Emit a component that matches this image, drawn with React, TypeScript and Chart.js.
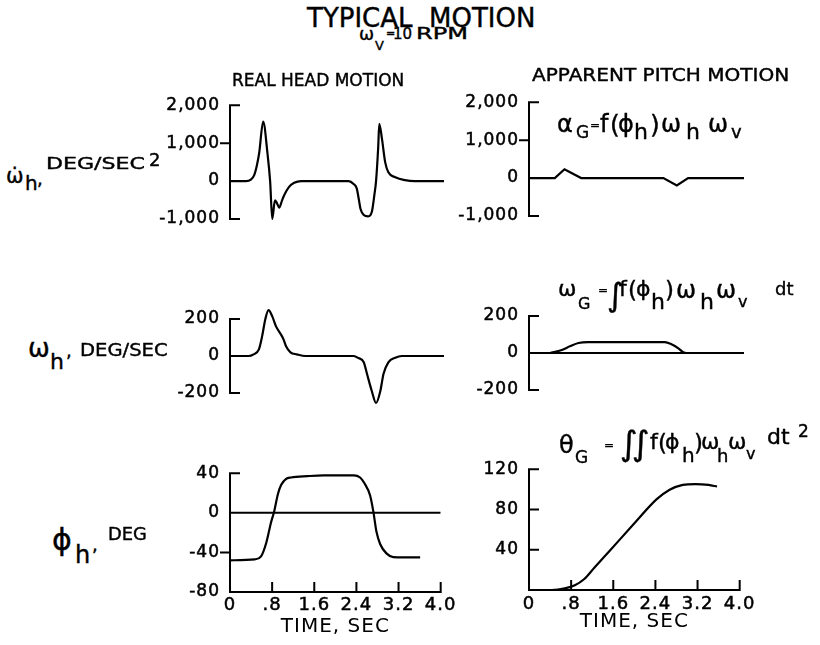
import React, { useEffect, useRef } from 'react';
import { Chart, registerables } from 'chart.js';

Chart.register(...registerables);

// ---------------- data ----------------
const timeTicks = [0, 0.8, 1.6, 2.4, 3.2, 4.0];
const timeTickLabels = ['0', '.8', '1.6', '2.4', '3.2', '4.0'];

const accelTicks = [-1000, 0, 1000, 2000];
const rateTicks = [-200, 0, 200];
const headAngleTicks = [-80, -40, 0, 40];
const pitchAngleTicks = [0, 40, 80, 120];

const baselineTime = [0, 4.0];
const baselineValue = [0, 0];

// real head angular acceleration, deg/sec^2
const headAccelTime = [0, 0.30, 0.39, 0.45, 0.50, 0.545, 0.62, 0.70, 0.75, 0.79, 0.84, 0.87, 0.92, 0.97, 1.01, 1.10, 1.20, 1.33, 2.22, 2.31, 2.37, 2.41, 2.44, 2.50, 2.58, 2.65, 2.70, 2.73, 2.77, 2.79, 2.84, 2.90, 2.96, 3.09, 3.27, 3.45, 4.0];
const headAccelValue = [0, 0, 40, 150, 400, 735, 1570, 735, 0, -1000, -510, -560, -700, -520, -380, -160, -45, 0, 0, -78, -200, -500, -737, -893, -930, -814, -350, 0, 890, 1510, 1120, 500, 230, 100, 25, 0, 0];

// apparent pitch acceleration
const pitchAccelTime = [0, 0.48, 0.66, 0.97, 2.50, 2.75, 2.96, 4.0];
const pitchAccelValue = [0, 0, 233, 0, 0, -194, 0, 0];

// real head angular rate, deg/sec
const headRateTime = [0, 0.35, 0.44, 0.54, 0.60, 0.66, 0.72, 0.79, 0.86, 0.96, 1.00, 1.05, 1.13, 1.25, 1.41, 2.31, 2.40, 2.50, 2.56, 2.65, 2.73, 2.81, 2.87, 2.96, 3.09, 3.21, 4.0];
const headRateValue = [0, 0, 9, 36, 106, 199, 248, 214, 160, 113, 90, 51, 20, 9, 0, 0, -11, -34, -96, -189, -254, -189, -96, -34, -9, 0, 0];

// apparent pitch rate
const pitchRateTime = [0.39, 0.61, 0.76, 0.92, 1.10, 2.53, 2.65, 2.78, 2.87, 2.92];
const pitchRateValue = [0, 16, 36, 54, 59, 59, 47, 25, 4, 0];

// real head roll angle, deg
const headAngleTime = [0, 0.47, 0.59, 0.69, 0.78, 0.84, 0.91, 0.97, 1.06, 1.16, 1.47, 1.78, 2.35, 2.47, 2.55, 2.66, 2.72, 2.78, 2.85, 2.97, 3.10, 3.29, 3.61];
const headAngleValue = [-48, -47, -44, -30, -9.5, 1.6, 19, 28, 34, 35.6, 37, 37.8, 37.8, 35.6, 30, 17.4, 1.6, -19, -31.5, -41, -44.7, -45, -45];

// apparent pitch angle
const pitchAngleTime = [0, 0.43, 0.68, 0.87, 1.05, 1.24, 1.55, 1.98, 2.42, 2.67, 2.92, 3.16, 3.41, 3.57];
const pitchAngleValue = [0, 0, 1.6, 4.7, 10.9, 22, 40, 65, 90, 99.7, 104.4, 105.3, 104.4, 102.8];

// ---------------- layout / style ----------------
const FONT = '"DejaVu Sans", "Liberation Sans", sans-serif';
const LW = 110;
const PR = 14;
const PT = 12;
const PB = 12;

type Series = { t: number[]; v: number[]; smooth: boolean };
type PanelCfg = {
  key: string;
  series: Series[];
  yTicks: number[];
  hideZeroLabel?: boolean;
  yMin: number;
  yMax: number;
  axisX: number;
  plotW: number;
  chartTop: number;
  chartBottom: number;
  xAxisH?: number;
  xPad?: number;
  midSide: 'left' | 'right';
};

const panels: PanelCfg[] = [
  {
    key: 'tl',
    series: [{ t: headAccelTime, v: headAccelValue, smooth: true }],
    yTicks: accelTicks, yMin: -1100, yMax: 2000,
    axisX: 230, plotW: 214, chartTop: 97, chartBottom: 231, midSide: 'left',
  },
  {
    key: 'tr',
    series: [{ t: pitchAccelTime, v: pitchAccelValue, smooth: false }],
    yTicks: accelTicks, yMin: -1100, yMax: 2000,
    axisX: 529, plotW: 215, chartTop: 94, chartBottom: 228, midSide: 'left',
  },
  {
    key: 'ml',
    series: [{ t: headRateTime, v: headRateValue, smooth: true }],
    yTicks: rateTicks, yMin: -280, yMax: 280,
    axisX: 230, plotW: 214, chartTop: 296, chartBottom: 416, midSide: 'left',
  },
  {
    key: 'mr',
    series: [
      { t: baselineTime, v: baselineValue, smooth: false },
      { t: pitchRateTime, v: pitchRateValue, smooth: true },
    ],
    yTicks: rateTicks, yMin: -280, yMax: 280,
    axisX: 529, plotW: 215, chartTop: 293, chartBottom: 413, midSide: 'left',
  },
  {
    key: 'bl',
    series: [
      { t: baselineTime, v: baselineValue, smooth: false },
      { t: headAngleTime, v: headAngleValue, smooth: true },
    ],
    yTicks: headAngleTicks, yMin: -80, yMax: 45,
    axisX: 230, plotW: 214, chartTop: 460, chartBottom: 592, xAxisH: 47, xPad: 3, midSide: 'left',
  },
  {
    key: 'br',
    series: [{ t: pitchAngleTime, v: pitchAngleValue, smooth: true }],
    yTicks: pitchAngleTicks, hideZeroLabel: true, yMin: 0, yMax: 125,
    axisX: 529, plotW: 215, chartTop: 456, chartBottom: 590, xAxisH: 44, xPad: 4, midSide: 'right',
  },
];

function makeDeco(cfg: PanelCfg) {
  return {
    id: 'deco_' + cfg.key,
    beforeDraw(chart: any) {
      try {
        chart.ctx.letterSpacing = '1px';
      } catch (e) {
        /* ignore */
      }
    },
    afterDraw(chart: any) {
      const { ctx, chartArea, scales } = chart;
      try {
        ctx.letterSpacing = '0px';
      } catch (e) {
        /* ignore */
      }
      const ys = scales.y;
      const xs = scales.x;
      const ax = chartArea.left;
      const tk = 9;
      const hi = Math.max(...cfg.yTicks);
      const lo = Math.min(...cfg.yTicks);
      ctx.save();
      ctx.strokeStyle = '#000';
      ctx.lineWidth = 2;
      ctx.lineCap = 'square';
      ctx.beginPath();
      ctx.moveTo(ax, ys.getPixelForValue(hi));
      ctx.lineTo(ax, ys.getPixelForValue(lo));
      for (const v of cfg.yTicks) {
        if (v === 0) continue;
        const y = ys.getPixelForValue(v);
        let side = 1;
        if (v === hi) side = 1;
        else if (v === lo) {
          if (cfg.xAxisH) continue;
          side = 1;
        } else side = cfg.midSide === 'right' ? 1 : -1;
        ctx.moveTo(ax, y);
        ctx.lineTo(ax + side * tk, y);
      }
      if (cfg.xAxisH) {
        const yb = chartArea.bottom;
        ctx.moveTo(xs.getPixelForValue(0), yb);
        ctx.lineTo(xs.getPixelForValue(4), yb);
        for (const t of timeTicks) {
          if (t === 0) continue;
          const x = xs.getPixelForValue(t);
          ctx.moveTo(x, yb);
          ctx.lineTo(x, yb - tk);
        }
      }
      ctx.stroke();
      ctx.restore();
    },
  };
}

function Panel({ cfg }: { cfg: PanelCfg }) {
  const ref = useRef<HTMLCanvasElement>(null);
  const plotH = cfg.chartBottom - cfg.chartTop;
  const bottomExtra = cfg.xAxisH ?? PB;
  const w = LW + cfg.plotW + PR;
  const h = PT + plotH + bottomExtra;

  useEffect(() => {
    if (!ref.current) return;
    const hasX = !!cfg.xAxisH;
    const chart = new Chart(ref.current, {
      type: 'line',
      data: {
        datasets: cfg.series.map((s) => ({
          data: s.t.map((t, i) => ({ x: t, y: s.v[i] })),
          borderColor: '#000',
          borderWidth: 2.2,
          pointRadius: 0,
          fill: false,
          tension: 0,
          cubicInterpolationMode: s.smooth ? 'monotone' : 'default',
        })),
      },
      options: {
        responsive: false,
        animation: false,
        events: [],
        layout: { padding: { left: 0, right: PR, top: PT, bottom: hasX ? 0 : PB } },
        plugins: { legend: { display: false }, tooltip: { enabled: false } },
        scales: {
          x: {
            type: 'linear',
            min: 0,
            max: 4,
            display: hasX,
            afterBuildTicks: (s: any) => {
              s.ticks = timeTicks.map((v) => ({ value: v }));
            },
            afterFit: (s: any) => {
              if (hasX) s.height = cfg.xAxisH;
            },
            grid: { display: false, drawTicks: false },
            border: { display: false },
            ticks: {
              color: '#000',
              font: { family: FONT, size: 18 },
              padding: cfg.xPad ?? 3,
              maxRotation: 0,
              autoSkip: false,
              textStrokeColor: '#000',
              textStrokeWidth: 0.5,
              callback: (v: any) => {
                const i = timeTicks.findIndex((t) => Math.abs(t - Number(v)) < 1e-6);
                return i >= 0 ? timeTickLabels[i] : '';
              },
            },
            title: {
              display: true,
              text: 'TIME, SEC',
              color: '#000',
              font: { family: FONT, size: 20 },
              padding: 0,
            },
          },
          y: {
            type: 'linear',
            min: cfg.yMin,
            max: cfg.yMax,
            afterBuildTicks: (s: any) => {
              s.ticks = cfg.yTicks.map((v) => ({ value: v }));
            },
            afterFit: (s: any) => {
              s.width = LW;
            },
            grid: { display: false, drawTicks: false },
            border: { display: false },
            ticks: {
              color: '#000',
              font: { family: FONT, size: 17 },
              padding: 10,
              autoSkip: false,
              textStrokeColor: '#000',
              textStrokeWidth: 0.5,
              callback: (v: any) => {
                const n = Number(v);
                if (cfg.hideZeroLabel && n === 0) return '';
                return n.toLocaleString('en-US');
              },
            },
          },
        },
      } as any,
      plugins: [makeDeco(cfg)],
    });
    return () => chart.destroy();
  }, []);

  return (
    <canvas
      ref={ref}
      width={w}
      height={h}
      style={{ position: 'absolute', left: cfg.axisX - LW, top: cfg.chartTop - PT, width: w, height: h }}
    />
  );
}

// [text, left, baseline, font size, letter spacing, horizontal stretch]
type Piece = [string, number, number, number, number?, number?];

function Pieces({ items }: { items: Piece[] }) {
  return (
    <>
      {items.map(([s, x, b, z, ls, sx], i) => (
        <span
          key={i}
          style={{
            position: 'absolute',
            left: x,
            top: b - 0.846 * z,
            fontSize: z,
            lineHeight: 1,
            whiteSpace: 'pre',
            letterSpacing: ls || 0,
            fontFamily: FONT,
            color: '#000',
            WebkitTextStroke: '0.4px #000',
            transform: sx ? `scaleX(${sx})` : undefined,
            transformOrigin: 'left center',
          }}
        >
          {s}
        </span>
      ))}
    </>
  );
}

const headingPieces: Piece[] = [
  ['TYPICAL  MOTION', 307, 27, 26],
  ['ω', 359, 40, 18],
  ['V', 375, 50, 13],
  ['=', 386, 37, 11],
  ['10', 393, 40, 15],
  ['RPM', 416, 40, 16, 0, 1.5],
  ['REAL HEAD MOTION', 232, 86, 17],
  ['APPARENT PITCH MOTION', 532, 81, 17, 0, 1.18],
];

const axisTitlePieces: Piece[] = [
  ['ω̇', 6, 184, 21],
  ['h', 25, 190, 20],
  [',', 37, 185, 18],
  ['DEG/SEC', 46, 170, 16, 0, 1.38],
  ['2', 149, 166, 18],
  ['ω', 28, 357, 26],
  ['h', 50, 370, 22],
  [',', 66, 357, 18],
  ['DEG/SEC', 80, 356, 17, 0, 1.15],
  ['ϕ', 52, 550, 30],
  ['h', 75, 563, 24],
  [',', 92, 551, 18],
  ['DEG', 108, 540, 17, 0, 1.05],
];

const formulaPieces: Piece[] = [
  ['α', 557, 132, 24],
  ['G', 576, 138, 17],
  ['=', 590, 129, 12],
  ['f', 600, 132, 24],
  ['(', 610, 133, 25],
  ['ϕ', 618, 132, 24],
  ['h', 634, 140, 22],
  [')', 650, 133, 25],
  ['ω', 661, 132, 24],
  ['h', 686, 140, 22],
  ['ω', 708, 132, 24],
  ['v', 731, 138, 18],

  ['ω', 558, 297, 22],
  ['G', 578, 310, 16],
  ['=', 598, 294, 12],
  ['∫', 607, 306, 32],
  ['f', 619, 297, 22],
  ['(', 628, 298, 23],
  ['ϕ', 636, 297, 22],
  ['h', 651, 310, 22],
  [')', 665, 298, 23],
  ['ω', 676, 298, 24],
  ['h', 700, 310, 22],
  ['ω', 716, 298, 24],
  ['v', 738, 308, 16],
  ['dt', 775, 295, 18],

  ['θ', 559, 453, 24],
  ['G', 575, 463, 17],
  ['=', 604, 449, 12],
  ['∫', 620, 455, 34],
  ['∫', 632, 455, 34],
  ['f', 650, 450, 22],
  ['(', 658, 451, 23],
  ['ϕ', 665, 450, 22],
  ['h', 682, 462, 20],
  [')', 694, 451, 23],
  ['ω', 701, 450, 22],
  ['h', 717, 462, 18],
  ['ω', 728, 450, 22],
  ['v', 746, 460, 16],
  ['dt', 767, 445, 22],
  ['2', 798, 437, 17],
];

export default function App() {
  return (
    <div
      style={{
        position: 'absolute',
        left: 0,
        top: 0,
        width: 820,
        height: 645,
        background: '#fff',
        overflow: 'hidden',
      }}
    >
      {panels.map((p) => (
        <Panel key={p.key} cfg={p} />
      ))}
      <Pieces items={headingPieces} />
      <Pieces items={axisTitlePieces} />
      <Pieces items={formulaPieces} />
    </div>
  );
}
